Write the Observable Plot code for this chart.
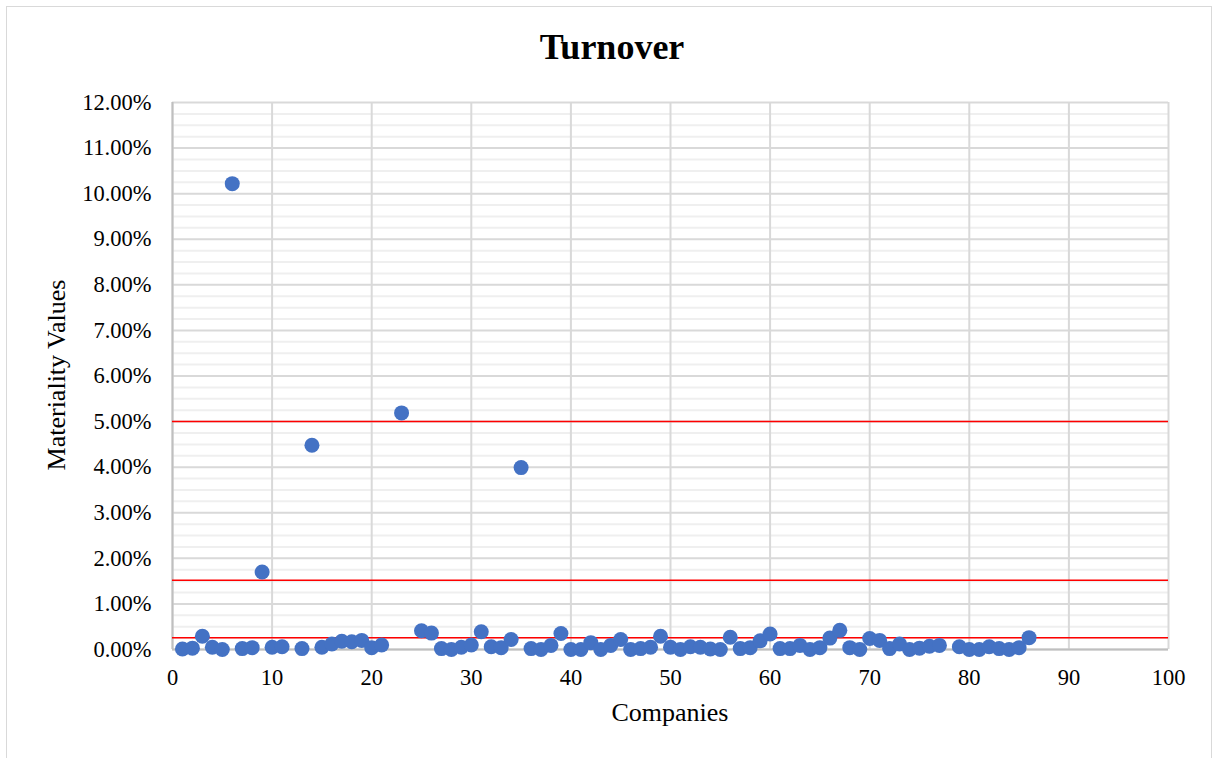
<!DOCTYPE html>
<html>
<head>
<meta charset="utf-8">
<script src="https://cdn.jsdelivr.net/npm/d3@7"></script>
<script src="https://cdn.jsdelivr.net/npm/@observablehq/plot@0.6"></script>
<style>
  html, body { margin: 0; padding: 0; background: #fff; }
  #wrap { position: relative; width: 1214px; height: 758px; overflow: hidden;
          font-family: "Liberation Serif", "Times New Roman", serif; color: #000; }
  #border { position: absolute; left: 6px; top: 6px; width: 1206px; height: 760px;
            border: 1px solid #d9d9d9; box-sizing: border-box; }
  #chart { position: absolute; left: 0; top: 0; }
  .title { position: absolute; left: 0; width: 1224px; top: 26px; text-align: center;
           font-size: 36px; font-weight: bold; }
  .xlabel { position: absolute; left: 170px; width: 1000px; top: 698px; text-align: center;
            font-size: 26px; }
  .ylabel { position: absolute; left: 57px; top: 375px; font-size: 26px; white-space: nowrap;
            transform: translate(-50%, -50%) rotate(-90deg); }
</style>
</head>
<body>
<div id="wrap">
  <div id="border"></div>
  <div id="chart"></div>
  <div class="title">Turnover</div>
  <div class="xlabel">Companies</div>
  <div class="ylabel">Materiality Values</div>
</div>
<script>
// Company index and its turnover materiality value (in percent)
const companies = [1, 2, 3, 4, 5, 6, 7, 8, 9, 10, 11, 13, 14, 15, 16, 17, 18, 19, 20, 21,
  23, 25, 26, 27, 28, 29, 30, 31, 32, 33, 34, 35, 36, 37, 38, 39, 40, 41, 42, 43,
  44, 45, 46, 47, 48, 49, 50, 51, 52, 53, 54, 55, 56, 57, 58, 59, 60, 61, 62, 63,
  64, 65, 66, 67, 68, 69, 70, 71, 72, 73, 74, 75, 76, 77, 79, 80, 81, 82, 83, 84,
  85, 86];
const materiality = [0.01, 0.03, 0.29, 0.05, 0.00, 10.22, 0.02, 0.04, 1.70, 0.05, 0.06, 0.02, 4.48, 0.05, 0.12, 0.18, 0.17, 0.20, 0.04, 0.10,
  5.19, 0.41, 0.36, 0.02, 0.00, 0.05, 0.10, 0.39, 0.06, 0.04, 0.22, 3.99, 0.02, 0.00, 0.09, 0.35, 0.00, 0.00, 0.15, 0.00,
  0.09, 0.22, 0.00, 0.02, 0.05, 0.29, 0.05, 0.00, 0.06, 0.05, 0.01, 0.00, 0.27, 0.02, 0.04, 0.19, 0.34, 0.02, 0.02, 0.09,
  0.00, 0.04, 0.25, 0.42, 0.04, 0.00, 0.24, 0.20, 0.02, 0.12, 0.00, 0.03, 0.07, 0.09, 0.06, 0.00, 0.00, 0.06, 0.02, 0.00,
  0.04, 0.26];

// Threshold lines (percent)
const thresholds = [5.0, 1.52, 0.26];

// Axis ticks
const xTicks = [0, 10, 20, 30, 40, 50, 60, 70, 80, 90, 100];
const yTicks = [0, 1, 2, 3, 4, 5, 6, 7, 8, 9, 10, 11, 12];
const yMinorTicks = d3.range(0, 12.001, 0.25).filter(v => Math.abs(v - Math.round(v)) > 1e-6);

const data = companies.map((c, i) => ({company: c, value: materiality[i]}));

const plot = Plot.plot({
  width: 1214,
  height: 758,
  marginLeft: 172,
  marginRight: 46,
  marginTop: 102,
  marginBottom: 109,
  style: {fontFamily: '"Liberation Serif", "Times New Roman", serif', fontSize: "22.5px", color: "#000", background: "transparent"},
  x: {domain: [0, 100]},
  y: {domain: [0, 12]},
  marks: [
    Plot.ruleY(yMinorTicks, {stroke: "#efefef", strokeWidth: 2}),
    Plot.ruleY(yTicks, {stroke: "#d9d9d9", strokeWidth: 2}),
    Plot.ruleX(xTicks, {stroke: "#d9d9d9", strokeWidth: 2}),
    Plot.ruleX([0], {stroke: "#bfbfbf", strokeWidth: 2}),
    Plot.ruleY([0], {stroke: "#bfbfbf", strokeWidth: 2}),
    Plot.axisY({ticks: yTicks, tickSize: 0, tickPadding: 21, tickFormat: d => d.toFixed(2) + "%", label: null}),
    Plot.axisX({ticks: xTicks, tickSize: 0, tickPadding: 20, tickFormat: d => String(d), label: null}),
    Plot.ruleY(thresholds, {stroke: "#ff0000", strokeWidth: 1.5}),
    Plot.dot(data, {x: "company", y: "value", r: 7.5, fill: "#4472c4", stroke: "none"})
  ]
});
document.getElementById("chart").appendChild(plot);
</script>
</body>
</html>
